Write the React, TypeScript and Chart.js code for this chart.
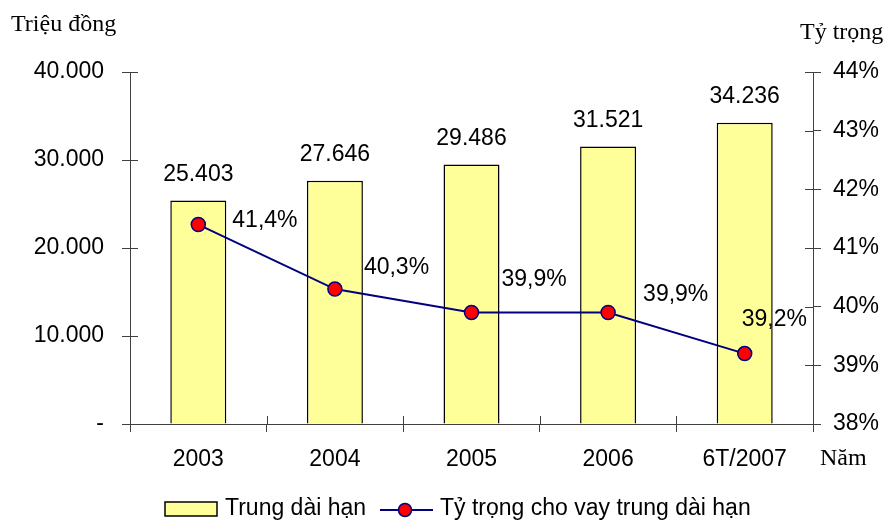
import React, { useEffect, useRef } from "react";
import { Chart, registerables } from "chart.js";

Chart.register(...registerables);

// Loan amounts (million VND) and share of medium/long-term lending (%)
const categories = ["2003", "2004", "2005", "2006", "6T/2007"];
const loanValues = [25403, 27646, 29486, 31521, 34236];
const shareValues = [41.4, 40.3, 39.9, 39.9, 39.2];
const leftTicks = [0, 10000, 20000, 30000, 40000];
const rightTicks = [38, 39, 40, 41, 42, 43, 44];

const barLabel = "Trung dài hạn";
const lineLabel = "Tỷ trọng cho vay trung dài hạn";

// label placement for the percentage labels, relative to each point
const shareLabelOffsets = [
  [34, -4],
  [29, -21],
  [30, -33],
  [35, -18],
  [-3, -34],
];

const SANS = "'Liberation Sans', Arial, sans-serif";
const SERIF = "'Liberation Serif', 'Times New Roman', serif";
const AXIS_COLOR = "#404040";
const BAR_FILL = "#FFFF99";
const LINE_COLOR = "#000080";

const fmtThousands = (v: number) =>
  String(Math.round(v)).replace(/\B(?=(\d{3})+(?!\d))/g, ".");

const decorations = {
  id: "decorations",
  afterDraw(chart: any) {
    const ctx = chart.ctx as CanvasRenderingContext2D;
    const area = chart.chartArea;
    const x = chart.scales.x;
    const yL = chart.scales.y;
    const yR = chart.scales.y1;
    ctx.save();

    // inner half of the crossing tick marks
    ctx.strokeStyle = AXIS_COLOR;
    ctx.lineWidth = 1;
    ctx.beginPath();
    leftTicks.forEach((t) => {
      const py = Math.round(yL.getPixelForValue(t)) + 0.5;
      ctx.moveTo(area.left, py);
      ctx.lineTo(area.left + 8, py);
    });
    rightTicks.forEach((t) => {
      const py = Math.round(yR.getPixelForValue(t)) + 0.5;
      ctx.moveTo(area.right - 8, py);
      ctx.lineTo(area.right, py);
    });
    const n = categories.length;
    for (let i = 0; i <= n; i++) {
      const px = Math.round(x.left + (i * (x.right - x.left)) / n) + 0.5;
      ctx.moveTo(px, area.bottom);
      ctx.lineTo(px, area.bottom - 8);
    }
    ctx.stroke();

    // value labels
    ctx.fillStyle = "#000";
    ctx.font = `23px ${SANS}`;
    ctx.textBaseline = "middle";
    ctx.textAlign = "center";
    const barMeta = chart.getDatasetMeta(0);
    barMeta.data.forEach((el: any, i: number) => {
      ctx.fillText(fmtThousands(loanValues[i]), el.x, el.y - 26);
    });
    const lineMeta = chart.getDatasetMeta(1);
    ctx.textAlign = "left";
    lineMeta.data.forEach((el: any, i: number) => {
      const [dx, dy] = shareLabelOffsets[i];
      ctx.fillText(shareValues[i].toFixed(1).replace(".", ",") + "%", el.x + dx, el.y + dy);
    });

    // axis titles
    ctx.font = `24px ${SERIF}`;
    ctx.textAlign = "left";
    ctx.fillText("Triệu đồng", 11, 25);
    ctx.fillText("Tỷ trọng", 800, 33);
    ctx.fillText("Năm", 820, 459);

    // legend
    const ly = 509;
    ctx.fillStyle = BAR_FILL;
    ctx.fillRect(165, 502, 52, 14);
    ctx.strokeStyle = "#000";
    ctx.lineWidth = 1.5;
    ctx.strokeRect(165, 502, 52, 14);
    ctx.fillStyle = "#000";
    ctx.font = `23px ${SANS}`;
    ctx.fillText(barLabel, 225, ly);
    ctx.strokeStyle = LINE_COLOR;
    ctx.lineWidth = 2;
    ctx.beginPath();
    ctx.moveTo(380, ly + 1);
    ctx.lineTo(433, ly + 1);
    ctx.stroke();
    ctx.beginPath();
    ctx.arc(405, ly + 1, 6.5, 0, Math.PI * 2);
    ctx.fillStyle = "#FF0000";
    ctx.fill();
    ctx.lineWidth = 1.5;
    ctx.stroke();
    ctx.fillStyle = "#000";
    ctx.fillText(lineLabel, 440, ly);
    ctx.restore();
  },
};

export default function App() {
  const ref = useRef<HTMLCanvasElement>(null);
  useEffect(() => {
    if (!ref.current) return;
    const chart = new Chart(ref.current, {
      data: {
        labels: categories,
        datasets: [
          {
            type: "bar",
            label: barLabel,
            data: loanValues,
            backgroundColor: BAR_FILL,
            borderColor: "#000",
            borderWidth: 1.5,
            yAxisID: "y",
            barPercentage: 0.41,
            categoryPercentage: 1,
            order: 2,
          },
          {
            type: "line",
            label: lineLabel,
            data: shareValues,
            borderColor: LINE_COLOR,
            borderWidth: 2,
            pointBackgroundColor: "#FF0000",
            pointBorderColor: LINE_COLOR,
            pointBorderWidth: 1.5,
            pointRadius: 7,
            tension: 0,
            yAxisID: "y1",
            order: 1,
          },
        ],
      } as any,
      options: {
        animation: false,
        responsive: false,
        maintainAspectRatio: false,
        layout: { padding: { top: 72, left: 0, right: 0, bottom: 0 } },
        plugins: { legend: { display: false }, tooltip: { enabled: false } },
        scales: {
          x: {
            offset: true,
            grid: {
              offset: true,
              drawOnChartArea: false,
              color: AXIS_COLOR,
              tickLength: 8,
            },
            border: { color: AXIS_COLOR },
            ticks: { color: "#000", font: { family: SANS, size: 23 }, padding: 14 },
            afterFit: (s: any) => {
              s.height = 97;
            },
          },
          y: {
            position: "left",
            min: 0,
            max: 40000,
            afterBuildTicks: (s: any) => {
              s.ticks = leftTicks.map((v) => ({ value: v }));
            },
            grid: { drawOnChartArea: false, color: AXIS_COLOR, tickLength: 8 },
            border: { color: AXIS_COLOR },
            ticks: {
              color: "#000",
              font: { family: SANS, size: 23 },
              padding: 18,
              callback: (v: any) => (Number(v) === 0 ? "-" : fmtThousands(Number(v))),
            },
            afterFit: (s: any) => {
              s.width = 130;
            },
          },
          y1: {
            position: "right",
            min: 38,
            max: 44,
            afterBuildTicks: (s: any) => {
              s.ticks = rightTicks.map((v) => ({ value: v }));
            },
            grid: { drawOnChartArea: false, color: AXIS_COLOR, tickLength: 8 },
            border: { color: AXIS_COLOR },
            ticks: {
              color: "#000",
              font: { family: SANS, size: 23 },
              padding: 12,
              callback: (v: any) => `${v}%`,
            },
            afterFit: (s: any) => {
              s.width = 74;
            },
          },
        },
      } as any,
      plugins: [decorations],
    });
    return () => chart.destroy();
  }, []);

  return (
    <div style={{ position: "fixed", left: 0, top: 0, width: 887, height: 521, background: "#fff" }}>
      <canvas ref={ref} width={887} height={521} style={{ display: "block" }} />
    </div>
  );
}
